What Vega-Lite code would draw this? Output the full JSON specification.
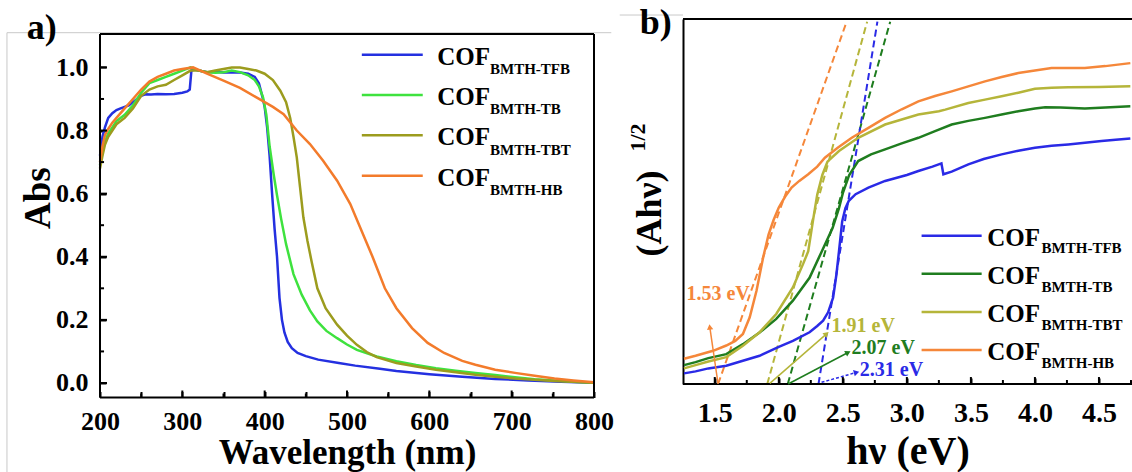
{
  "$schema": "https://vega.github.io/schema/vega-lite/v6.json",
  "padding": {"left": 6, "top": 4, "right": 0, "bottom": 0},
  "background": "white",
  "bounds": "flush",
  "spacing": 89,
  "config": {
    "font": "Liberation Serif",
    "view": {"stroke": null},
    "axis": {"labelFont": "Liberation Serif", "titleFont": "Liberation Serif", "labelColor": "#000", "titleColor": "#000", "domainColor": "#000", "tickColor": "#000", "grid": false, "labelFontWeight": "bold", "titleFontWeight": "bold", "domainWidth": 2, "tickWidth": 2, "ticks": true, "tickOpacity": 1, "zindex": 1, "labelOverlap": false, "labelFlush": false}
  },
  "datasets": {
    "absA": [
      {"w":200,"a":0.72,"s":"TFB"},{"w":203,"a":0.78,"s":"TFB"},{"w":206,"a":0.81,"s":"TFB"},{"w":210,"a":0.84,"s":"TFB"},{"w":215,"a":0.855,"s":"TFB"},{"w":220,"a":0.865,"s":"TFB"},{"w":225,"a":0.87,"s":"TFB"},{"w":230,"a":0.875,"s":"TFB"},{"w":235,"a":0.88,"s":"TFB"},{"w":240,"a":0.89,"s":"TFB"},{"w":245,"a":0.9,"s":"TFB"},{"w":250,"a":0.91,"s":"TFB"},{"w":255,"a":0.915,"s":"TFB"},{"w":262,"a":0.914,"s":"TFB"},{"w":270,"a":0.916,"s":"TFB"},{"w":280,"a":0.915,"s":"TFB"},{"w":290,"a":0.916,"s":"TFB"},{"w":300,"a":0.92,"s":"TFB"},{"w":306,"a":0.924,"s":"TFB"},{"w":309,"a":0.93,"s":"TFB"},{"w":311,"a":0.99,"s":"TFB"},{"w":315,"a":0.993,"s":"TFB"},{"w":320,"a":0.99,"s":"TFB"},{"w":330,"a":0.985,"s":"TFB"},{"w":340,"a":0.986,"s":"TFB"},{"w":350,"a":0.984,"s":"TFB"},{"w":360,"a":0.985,"s":"TFB"},{"w":370,"a":0.984,"s":"TFB"},{"w":380,"a":0.98,"s":"TFB"},{"w":388,"a":0.97,"s":"TFB"},{"w":393,"a":0.95,"s":"TFB"},{"w":397,"a":0.91,"s":"TFB"},{"w":400,"a":0.875,"s":"TFB"},{"w":403,"a":0.81,"s":"TFB"},{"w":406,"a":0.72,"s":"TFB"},{"w":409,"a":0.6,"s":"TFB"},{"w":412,"a":0.49,"s":"TFB"},{"w":415,"a":0.4,"s":"TFB"},{"w":418,"a":0.27,"s":"TFB"},{"w":421,"a":0.2,"s":"TFB"},{"w":424,"a":0.16,"s":"TFB"},{"w":428,"a":0.13,"s":"TFB"},{"w":433,"a":0.11,"s":"TFB"},{"w":440,"a":0.095,"s":"TFB"},{"w":450,"a":0.085,"s":"TFB"},{"w":465,"a":0.074,"s":"TFB"},{"w":490,"a":0.063,"s":"TFB"},{"w":510,"a":0.055,"s":"TFB"},{"w":540,"a":0.045,"s":"TFB"},{"w":560,"a":0.038,"s":"TFB"},{"w":600,"a":0.028,"s":"TFB"},{"w":640,"a":0.02,"s":"TFB"},{"w":680,"a":0.013,"s":"TFB"},{"w":720,"a":0.008,"s":"TFB"},{"w":760,"a":0.004,"s":"TFB"},{"w":800,"a":0.001,"s":"TFB"},
      {"w":200,"a":0.69,"s":"TB"},{"w":203,"a":0.73,"s":"TB"},{"w":206,"a":0.765,"s":"TB"},{"w":210,"a":0.79,"s":"TB"},{"w":215,"a":0.81,"s":"TB"},{"w":220,"a":0.83,"s":"TB"},{"w":230,"a":0.85,"s":"TB"},{"w":240,"a":0.88,"s":"TB"},{"w":250,"a":0.92,"s":"TB"},{"w":260,"a":0.95,"s":"TB"},{"w":270,"a":0.96,"s":"TB"},{"w":280,"a":0.97,"s":"TB"},{"w":290,"a":0.98,"s":"TB"},{"w":300,"a":0.99,"s":"TB"},{"w":310,"a":1.0,"s":"TB"},{"w":320,"a":0.99,"s":"TB"},{"w":330,"a":0.985,"s":"TB"},{"w":340,"a":0.983,"s":"TB"},{"w":350,"a":0.985,"s":"TB"},{"w":360,"a":0.99,"s":"TB"},{"w":370,"a":0.985,"s":"TB"},{"w":380,"a":0.975,"s":"TB"},{"w":388,"a":0.96,"s":"TB"},{"w":393,"a":0.94,"s":"TB"},{"w":398,"a":0.905,"s":"TB"},{"w":402,"a":0.85,"s":"TB"},{"w":406,"a":0.75,"s":"TB"},{"w":411,"a":0.66,"s":"TB"},{"w":415,"a":0.595,"s":"TB"},{"w":420,"a":0.52,"s":"TB"},{"w":426,"a":0.44,"s":"TB"},{"w":435,"a":0.345,"s":"TB"},{"w":445,"a":0.28,"s":"TB"},{"w":455,"a":0.23,"s":"TB"},{"w":464,"a":0.195,"s":"TB"},{"w":475,"a":0.165,"s":"TB"},{"w":488,"a":0.142,"s":"TB"},{"w":500,"a":0.122,"s":"TB"},{"w":512,"a":0.105,"s":"TB"},{"w":536,"a":0.084,"s":"TB"},{"w":560,"a":0.069,"s":"TB"},{"w":584,"a":0.057,"s":"TB"},{"w":608,"a":0.047,"s":"TB"},{"w":632,"a":0.039,"s":"TB"},{"w":656,"a":0.032,"s":"TB"},{"w":680,"a":0.025,"s":"TB"},{"w":704,"a":0.018,"s":"TB"},{"w":728,"a":0.012,"s":"TB"},{"w":752,"a":0.008,"s":"TB"},{"w":776,"a":0.004,"s":"TB"},{"w":800,"a":0.001,"s":"TB"},
      {"w":200,"a":0.68,"s":"TBT"},{"w":203,"a":0.72,"s":"TBT"},{"w":206,"a":0.755,"s":"TBT"},{"w":210,"a":0.78,"s":"TBT"},{"w":215,"a":0.8,"s":"TBT"},{"w":220,"a":0.82,"s":"TBT"},{"w":230,"a":0.84,"s":"TBT"},{"w":240,"a":0.87,"s":"TBT"},{"w":250,"a":0.91,"s":"TBT"},{"w":260,"a":0.93,"s":"TBT"},{"w":270,"a":0.94,"s":"TBT"},{"w":280,"a":0.945,"s":"TBT"},{"w":290,"a":0.96,"s":"TBT"},{"w":300,"a":0.975,"s":"TBT"},{"w":310,"a":0.99,"s":"TBT"},{"w":320,"a":0.99,"s":"TBT"},{"w":330,"a":0.985,"s":"TBT"},{"w":340,"a":0.99,"s":"TBT"},{"w":350,"a":0.995,"s":"TBT"},{"w":360,"a":1.0,"s":"TBT"},{"w":370,"a":1.0,"s":"TBT"},{"w":380,"a":0.995,"s":"TBT"},{"w":390,"a":0.99,"s":"TBT"},{"w":400,"a":0.98,"s":"TBT"},{"w":410,"a":0.96,"s":"TBT"},{"w":419,"a":0.926,"s":"TBT"},{"w":426,"a":0.89,"s":"TBT"},{"w":431,"a":0.84,"s":"TBT"},{"w":435,"a":0.78,"s":"TBT"},{"w":439,"a":0.715,"s":"TBT"},{"w":443,"a":0.62,"s":"TBT"},{"w":447,"a":0.525,"s":"TBT"},{"w":452,"a":0.45,"s":"TBT"},{"w":457,"a":0.385,"s":"TBT"},{"w":464,"a":0.3,"s":"TBT"},{"w":474,"a":0.237,"s":"TBT"},{"w":488,"a":0.185,"s":"TBT"},{"w":500,"a":0.15,"s":"TBT"},{"w":512,"a":0.121,"s":"TBT"},{"w":524,"a":0.098,"s":"TBT"},{"w":536,"a":0.082,"s":"TBT"},{"w":560,"a":0.063,"s":"TBT"},{"w":584,"a":0.052,"s":"TBT"},{"w":608,"a":0.042,"s":"TBT"},{"w":632,"a":0.034,"s":"TBT"},{"w":656,"a":0.026,"s":"TBT"},{"w":680,"a":0.02,"s":"TBT"},{"w":704,"a":0.014,"s":"TBT"},{"w":752,"a":0.006,"s":"TBT"},{"w":800,"a":0.001,"s":"TBT"},
      {"w":200,"a":0.7,"s":"HB"},{"w":203,"a":0.75,"s":"HB"},{"w":206,"a":0.785,"s":"HB"},{"w":210,"a":0.805,"s":"HB"},{"w":215,"a":0.825,"s":"HB"},{"w":220,"a":0.84,"s":"HB"},{"w":225,"a":0.855,"s":"HB"},{"w":230,"a":0.87,"s":"HB"},{"w":240,"a":0.9,"s":"HB"},{"w":250,"a":0.93,"s":"HB"},{"w":260,"a":0.955,"s":"HB"},{"w":270,"a":0.97,"s":"HB"},{"w":280,"a":0.98,"s":"HB"},{"w":290,"a":0.99,"s":"HB"},{"w":300,"a":0.995,"s":"HB"},{"w":313,"a":1.0,"s":"HB"},{"w":330,"a":0.98,"s":"HB"},{"w":350,"a":0.958,"s":"HB"},{"w":370,"a":0.935,"s":"HB"},{"w":390,"a":0.905,"s":"HB"},{"w":410,"a":0.875,"s":"HB"},{"w":423,"a":0.852,"s":"HB"},{"w":439,"a":0.8,"s":"HB"},{"w":455,"a":0.757,"s":"HB"},{"w":471,"a":0.704,"s":"HB"},{"w":488,"a":0.641,"s":"HB"},{"w":504,"a":0.567,"s":"HB"},{"w":516,"a":0.493,"s":"HB"},{"w":531,"a":0.4,"s":"HB"},{"w":546,"a":0.3,"s":"HB"},{"w":560,"a":0.237,"s":"HB"},{"w":579,"a":0.174,"s":"HB"},{"w":598,"a":0.127,"s":"HB"},{"w":618,"a":0.095,"s":"HB"},{"w":640,"a":0.07,"s":"HB"},{"w":656,"a":0.058,"s":"HB"},{"w":680,"a":0.042,"s":"HB"},{"w":704,"a":0.032,"s":"HB"},{"w":730,"a":0.022,"s":"HB"},{"w":752,"a":0.014,"s":"HB"},{"w":775,"a":0.008,"s":"HB"},{"w":800,"a":0.002,"s":"HB"}
    ],
    "taucB": [
      {"e":1.26,"v":0.32,"s":"TFB"},{"e":1.35,"v":0.38,"s":"TFB"},{"e":1.45,"v":0.47,"s":"TFB"},{"e":1.59,"v":0.55,"s":"TFB"},{"e":1.7,"v":0.68,"s":"TFB"},{"e":1.85,"v":0.85,"s":"TFB"},{"e":2.0,"v":1.12,"s":"TFB"},{"e":2.11,"v":1.3,"s":"TFB"},{"e":2.24,"v":1.56,"s":"TFB"},{"e":2.3,"v":1.75,"s":"TFB"},{"e":2.346,"v":1.91,"s":"TFB"},{"e":2.385,"v":2.16,"s":"TFB"},{"e":2.424,"v":2.6,"s":"TFB"},{"e":2.45,"v":3.3,"s":"TFB"},{"e":2.47,"v":4.0,"s":"TFB"},{"e":2.495,"v":4.9,"s":"TFB"},{"e":2.52,"v":5.3,"s":"TFB"},{"e":2.547,"v":5.52,"s":"TFB"},{"e":2.6,"v":5.72,"s":"TFB"},{"e":2.7,"v":5.92,"s":"TFB"},{"e":2.83,"v":6.12,"s":"TFB"},{"e":3.0,"v":6.3,"s":"TFB"},{"e":3.09,"v":6.42,"s":"TFB"},{"e":3.2,"v":6.55,"s":"TFB"},{"e":3.27,"v":6.65,"s":"TFB"},{"e":3.285,"v":6.32,"s":"TFB"},{"e":3.35,"v":6.4,"s":"TFB"},{"e":3.48,"v":6.62,"s":"TFB"},{"e":3.6,"v":6.78,"s":"TFB"},{"e":3.74,"v":6.92,"s":"TFB"},{"e":3.87,"v":7.03,"s":"TFB"},{"e":4.0,"v":7.12,"s":"TFB"},{"e":4.13,"v":7.18,"s":"TFB"},{"e":4.26,"v":7.22,"s":"TFB"},{"e":4.39,"v":7.27,"s":"TFB"},{"e":4.52,"v":7.32,"s":"TFB"},{"e":4.63,"v":7.36,"s":"TFB"},{"e":4.745,"v":7.4,"s":"TFB"},
      {"e":1.26,"v":0.57,"s":"TB"},{"e":1.35,"v":0.66,"s":"TB"},{"e":1.45,"v":0.78,"s":"TB"},{"e":1.59,"v":0.9,"s":"TB"},{"e":1.72,"v":1.2,"s":"TB"},{"e":1.85,"v":1.55,"s":"TB"},{"e":1.98,"v":1.96,"s":"TB"},{"e":2.11,"v":2.51,"s":"TB"},{"e":2.24,"v":3.2,"s":"TB"},{"e":2.33,"v":3.95,"s":"TB"},{"e":2.42,"v":4.7,"s":"TB"},{"e":2.47,"v":5.3,"s":"TB"},{"e":2.5,"v":5.75,"s":"TB"},{"e":2.55,"v":6.3,"s":"TB"},{"e":2.62,"v":6.72,"s":"TB"},{"e":2.72,"v":6.92,"s":"TB"},{"e":2.83,"v":7.07,"s":"TB"},{"e":2.96,"v":7.25,"s":"TB"},{"e":3.09,"v":7.42,"s":"TB"},{"e":3.22,"v":7.62,"s":"TB"},{"e":3.35,"v":7.82,"s":"TB"},{"e":3.48,"v":7.93,"s":"TB"},{"e":3.61,"v":8.02,"s":"TB"},{"e":3.74,"v":8.12,"s":"TB"},{"e":3.87,"v":8.22,"s":"TB"},{"e":4.0,"v":8.3,"s":"TB"},{"e":4.08,"v":8.34,"s":"TB"},{"e":4.2,"v":8.33,"s":"TB"},{"e":4.39,"v":8.3,"s":"TB"},{"e":4.55,"v":8.33,"s":"TB"},{"e":4.745,"v":8.37,"s":"TB"},
      {"e":1.26,"v":0.47,"s":"TBT"},{"e":1.35,"v":0.57,"s":"TBT"},{"e":1.45,"v":0.68,"s":"TBT"},{"e":1.59,"v":0.81,"s":"TBT"},{"e":1.72,"v":1.15,"s":"TBT"},{"e":1.85,"v":1.56,"s":"TBT"},{"e":1.98,"v":2.11,"s":"TBT"},{"e":2.11,"v":2.91,"s":"TBT"},{"e":2.19,"v":3.62,"s":"TBT"},{"e":2.23,"v":4.0,"s":"TBT"},{"e":2.27,"v":5.0,"s":"TBT"},{"e":2.3,"v":5.7,"s":"TBT"},{"e":2.34,"v":6.3,"s":"TBT"},{"e":2.38,"v":6.7,"s":"TBT"},{"e":2.47,"v":7.02,"s":"TBT"},{"e":2.62,"v":7.42,"s":"TBT"},{"e":2.83,"v":7.82,"s":"TBT"},{"e":3.09,"v":8.12,"s":"TBT"},{"e":3.25,"v":8.22,"s":"TBT"},{"e":3.3,"v":8.27,"s":"TBT"},{"e":3.48,"v":8.47,"s":"TBT"},{"e":3.61,"v":8.57,"s":"TBT"},{"e":3.74,"v":8.67,"s":"TBT"},{"e":3.87,"v":8.78,"s":"TBT"},{"e":4.0,"v":8.9,"s":"TBT"},{"e":4.13,"v":8.93,"s":"TBT"},{"e":4.26,"v":8.94,"s":"TBT"},{"e":4.5,"v":8.95,"s":"TBT"},{"e":4.745,"v":8.97,"s":"TBT"},
      {"e":1.26,"v":0.76,"s":"HB"},{"e":1.35,"v":0.85,"s":"HB"},{"e":1.487,"v":1.0,"s":"HB"},{"e":1.59,"v":1.16,"s":"HB"},{"e":1.66,"v":1.3,"s":"HB"},{"e":1.72,"v":1.51,"s":"HB"},{"e":1.773,"v":2.01,"s":"HB"},{"e":1.826,"v":2.81,"s":"HB"},{"e":1.877,"v":3.8,"s":"HB"},{"e":1.92,"v":4.5,"s":"HB"},{"e":1.96,"v":4.95,"s":"HB"},{"e":2.0,"v":5.32,"s":"HB"},{"e":2.05,"v":5.65,"s":"HB"},{"e":2.1,"v":5.92,"s":"HB"},{"e":2.16,"v":6.12,"s":"HB"},{"e":2.23,"v":6.32,"s":"HB"},{"e":2.3,"v":6.55,"s":"HB"},{"e":2.36,"v":6.82,"s":"HB"},{"e":2.46,"v":7.12,"s":"HB"},{"e":2.57,"v":7.42,"s":"HB"},{"e":2.7,"v":7.72,"s":"HB"},{"e":2.83,"v":8.02,"s":"HB"},{"e":2.96,"v":8.28,"s":"HB"},{"e":3.09,"v":8.52,"s":"HB"},{"e":3.22,"v":8.68,"s":"HB"},{"e":3.35,"v":8.82,"s":"HB"},{"e":3.48,"v":8.97,"s":"HB"},{"e":3.61,"v":9.12,"s":"HB"},{"e":3.74,"v":9.25,"s":"HB"},{"e":3.87,"v":9.37,"s":"HB"},{"e":4.0,"v":9.45,"s":"HB"},{"e":4.13,"v":9.52,"s":"HB"},{"e":4.26,"v":9.52,"s":"HB"},{"e":4.39,"v":9.52,"s":"HB"},{"e":4.55,"v":9.58,"s":"HB"},{"e":4.745,"v":9.67,"s":"HB"}
    ],
    "tangB": [
      {"e":1.526,"v":0,"s":"HB"},{"e":2.53,"v":10.92,"s":"HB"},
      {"e":1.91,"v":0,"s":"TBT"},{"e":2.69,"v":10.92,"s":"TBT"},
      {"e":2.07,"v":0,"s":"TB"},{"e":2.87,"v":10.92,"s":"TB"},
      {"e":2.31,"v":0,"s":"TFB"},{"e":2.77,"v":10.92,"s":"TFB"}
    ],
    "legend": [
      {"s":"TFB","sub":"BMTH-TFB"},{"s":"TB","sub":"BMTH-TB"},{"s":"TBT","sub":"BMTH-TBT"},{"s":"HB","sub":"BMTH-HB"}
    ],
    "tAxMaj": [{"w":300},{"w":400},{"w":500},{"w":600},{"w":700}],
    "tAxMin": [{"w":250},{"w":350},{"w":450},{"w":550},{"w":650},{"w":750}],
    "tAyMaj": [{"a":0},{"a":0.2},{"a":0.4},{"a":0.6},{"a":0.8},{"a":1.0}],
    "tAyMin": [{"a":0.1},{"a":0.3},{"a":0.5},{"a":0.7},{"a":0.9}],
    "tBxMaj": [{"e":1.5},{"e":2.0},{"e":2.5},{"e":3.0},{"e":3.5},{"e":4.0},{"e":4.5}],
    "tBxMin": [{"e":1.75},{"e":2.25},{"e":2.75},{"e":3.25},{"e":3.75},{"e":4.25},{"e":4.75}],
    "one": [{}]
  },
  "hconcat": [
    {
      "width": 494,
      "height": 378.5,
      "layer": [
        {
          "layer": [
            {"data": {"name": "one"}, "mark": {"type": "rule", "color": "#c9c9c9", "strokeWidth": 1}, "encoding": {"x": {"datum": 87}, "x2": {"datum": 821}, "y": {"datum": 1.11}}},
            {"data": {"name": "one"}, "mark": {"type": "rule", "color": "#c9c9c9", "strokeWidth": 1}, "encoding": {"x": {"datum": 87}, "y": {"datum": 1.11}, "y2": {"datum": -0.284}}},
            {
              "data": {"name": "absA"},
              "mark": {"type": "line", "strokeWidth": 2.5},
              "encoding": {
                "x": {"field": "w", "type": "quantitative", "scale": {"domain": [200, 800], "nice": false, "zero": false},
                  "axis": {"values": [200,250,300,350,400,450,500,550,600,650,700,750,800], "labelExpr": "datum.value % 100 === 0 ? datum.label : ''", "offset": -6, "tickSize": 6, "domain": false, "labelPadding": 11, "labelFontSize": 26, "title": "Wavelength (nm)", "titleFontSize": 35, "titleY": 72, "titleBaseline": "alphabetic"}},
                "y": {"field": "a", "type": "quantitative", "scale": {"domain": [-0.046, 1.1534], "nice": false, "zero": false},
                  "axis": {"values": [0,0.1,0.2,0.3,0.4,0.5,0.6,0.7,0.8,0.9,1.0], "labelExpr": "round(datum.value*10) % 2 === 0 ? format(datum.value, '.1f') : ''", "offset": -6, "tickSize": 6, "domain": false, "labelPadding": 12, "labelFontSize": 26, "title": "Abs", "titleFontSize": 37, "titleAngle": 270, "titleX": -57, "titleY": 178.7, "titleAlign": "center", "titleBaseline": "alphabetic"}},
                "color": {"field": "s", "type": "nominal", "legend": null, "scale": {"domain": ["TFB","TB","TBT","HB"], "range": ["#2430e0","#3ee23e","#9c9c1e","#f37b2b"]}}
              }
            },
            {"data": {"name": "tAxMaj"}, "mark": {"type": "rule", "color": "#000", "strokeWidth": 2}, "encoding": {"x": {"field": "w", "type": "quantitative"}, "y": {"datum": -0.046}, "y2": {"datum": -0.0238}}},
            {"data": {"name": "tAxMin"}, "mark": {"type": "rule", "color": "#000", "strokeWidth": 2}, "encoding": {"x": {"field": "w", "type": "quantitative"}, "y": {"datum": -0.046}, "y2": {"datum": -0.0333}}},
            {"data": {"name": "tAyMaj"}, "mark": {"type": "rule", "color": "#000", "strokeWidth": 2}, "encoding": {"y": {"field": "a", "type": "quantitative"}, "x": {"datum": 200}, "x2": {"datum": 208.5}}},
            {"data": {"name": "tAyMin"}, "mark": {"type": "rule", "color": "#000", "strokeWidth": 2}, "encoding": {"y": {"field": "a", "type": "quantitative"}, "x": {"datum": 200}, "x2": {"datum": 204.9}}},
            {"data": {"name": "one"}, "mark": {"type": "rule", "color": "#000", "strokeWidth": 2}, "encoding": {"x": {"datum": 200}, "y": {"datum": -0.046}, "y2": {"datum": 1.1058}}},
            {"data": {"name": "one"}, "mark": {"type": "rule", "color": "#000", "strokeWidth": 2}, "encoding": {"x": {"datum": 800}, "y": {"datum": -0.046}, "y2": {"datum": 1.1058}}},
            {"data": {"name": "one"}, "mark": {"type": "rule", "color": "#000", "strokeWidth": 2}, "encoding": {"x": {"datum": 200}, "x2": {"datum": 800}, "y": {"datum": 1.1058}}},
            {"data": {"name": "one"}, "mark": {"type": "rule", "color": "#000", "strokeWidth": 2}, "encoding": {"x": {"datum": 200}, "x2": {"datum": 800}, "y": {"datum": -0.046}}},
            {"data": {"name": "one"}, "mark": {"type": "text", "text": "a)", "fontSize": 36, "fontWeight": "bold", "align": "left", "baseline": "alphabetic", "color": "#000"}, "encoding": {"x": {"datum": 111}, "y": {"datum": 1.09}}}
          ]
        },
        {
          "data": {"name": "legend"},
          "encoding": {
            "y": {"field": "s", "type": "nominal", "scale": {"type": "point", "domain": ["TFB","TB","TBT","HB"], "range": [35.7, 156.7], "padding": 0}, "axis": null},
            "color": {"field": "s", "type": "nominal", "legend": null, "scale": {"domain": ["TFB","TB","TBT","HB"], "range": ["#2430e0","#3ee23e","#9c9c1e","#f37b2b"]}}
          },
          "layer": [
            {"mark": {"type": "rule", "strokeWidth": 2.5}, "encoding": {"x": {"datum": 518}, "x2": {"datum": 592}}},
            {"mark": {"type": "text", "text": "COF", "fontSize": 25, "fontWeight": "bold", "align": "left", "baseline": "alphabetic", "dy": 10}, "encoding": {"x": {"datum": 609.7}, "color": {"value": "#000"}}},
            {"mark": {"type": "text", "fontSize": 15, "fontWeight": "bold", "align": "left", "baseline": "alphabetic", "dy": 19.3}, "encoding": {"x": {"datum": 673.7}, "text": {"field": "sub"}, "color": {"value": "#000"}}}
          ]
        }
      ],
      "resolve": {"scale": {"y": "independent"}}
    },
    {
      "width": 449,
      "height": 365,
      "layer": [
        {
          "layer": [
            {"data": {"name": "one"}, "mark": {"type": "rule", "color": "#c9c9c9", "strokeWidth": 1}, "encoding": {"x": {"datum": 0.758}, "x2": {"datum": 1.252}, "y": {"datum": 11.12}}},
            {
              "data": {"name": "tangB"},
              "mark": {"type": "line", "strokeWidth": 2, "strokeDash": [7, 4]},
              "encoding": {
                "x": {"field": "e", "type": "quantitative"},
                "y": {"field": "v", "type": "quantitative"},
                "detail": {"field": "s"},
                "color": {"field": "s", "type": "nominal", "legend": null}
              }
            },
            {
              "data": {"name": "taucB"},
              "mark": {"type": "line", "strokeWidth": 2.5},
              "encoding": {
                "x": {"field": "e", "type": "quantitative", "scale": {"domain": [1.252, 4.758], "nice": false, "zero": false},
                  "axis": {"values": [1.5,1.75,2,2.25,2.5,2.75,3,3.25,3.5,3.75,4,4.25,4.5,4.75], "labelExpr": "round(datum.value*4) % 2 === 0 ? format(datum.value, '.1f') : ''", "offset": -6, "tickSize": 6, "domain": false, "labelPadding": 15, "labelFontSize": 28, "title": "hν (eV)", "titleFontSize": 40, "titleY": 85, "titleBaseline": "alphabetic"}},
                "y": {"field": "v", "type": "quantitative", "scale": {"domain": [0, 11], "nice": false, "zero": false},
                  "axis": {"ticks": false, "labels": false, "domain": true, "title": "(Ahν)", "titleFontSize": 36, "titleAngle": 270, "titleX": -23, "titleY": 194, "titleAlign": "center", "titleBaseline": "alphabetic"}},
                "color": {"field": "s", "type": "nominal", "legend": null, "scale": {"domain": ["TFB","TB","TBT","HB"], "range": ["#2a2ae6","#1f7d1f","#b5b53a","#f5873a"]}}
              }
            },
            {"data": {"name": "tBxMaj"}, "mark": {"type": "rule", "color": "#000", "strokeWidth": 2}, "encoding": {"x": {"field": "e", "type": "quantitative"}, "y": {"datum": 0}, "y2": {"datum": 0.21}}},
            {"data": {"name": "tBxMin"}, "mark": {"type": "rule", "color": "#000", "strokeWidth": 2}, "encoding": {"x": {"field": "e", "type": "quantitative"}, "y": {"datum": 0}, "y2": {"datum": 0.12}}},
            {"data": {"name": "one"}, "mark": {"type": "rule", "color": "#000", "strokeWidth": 2}, "encoding": {"x": {"datum": 1.252}, "x2": {"datum": 4.758}, "y": {"datum": 11}}},
            {"data": {"name": "one"}, "mark": {"type": "rule", "color": "#000", "strokeWidth": 2}, "encoding": {"x": {"datum": 1.252}, "x2": {"datum": 4.758}, "y": {"datum": 0}}},
            {"data": {"name": "one"}, "mark": {"type": "rule", "strokeWidth": 1.5}, "encoding": {"x": {"datum": 1.526}, "y": {"datum": 0}, "x2": {"datum": 1.461}, "y2": {"datum": 1.72}, "color": {"datum": "HB"}}},
            {"data": {"name": "one"}, "mark": {"type": "point", "shape": "triangle-up", "filled": true, "size": 40, "angle": 352, "opacity": 1}, "encoding": {"x": {"datum": 1.461}, "y": {"datum": 1.72}, "color": {"datum": "HB"}}},
            {"data": {"name": "one"}, "mark": {"type": "rule", "strokeWidth": 1.5}, "encoding": {"x": {"datum": 1.93}, "y": {"datum": 0.02}, "x2": {"datum": 2.373}, "y2": {"datum": 1.51}, "color": {"datum": "TBT"}}},
            {"data": {"name": "one"}, "mark": {"type": "point", "shape": "triangle-up", "filled": true, "size": 40, "angle": 49, "opacity": 1}, "encoding": {"x": {"datum": 2.373}, "y": {"datum": 1.51}, "color": {"datum": "TBT"}}},
            {"data": {"name": "one"}, "mark": {"type": "rule", "strokeWidth": 1.5}, "encoding": {"x": {"datum": 2.073}, "y": {"datum": 0}, "x2": {"datum": 2.541}, "y2": {"datum": 0.95}, "color": {"datum": "TB"}}},
            {"data": {"name": "one"}, "mark": {"type": "point", "shape": "triangle-up", "filled": true, "size": 40, "angle": 62, "opacity": 1}, "encoding": {"x": {"datum": 2.541}, "y": {"datum": 0.95}, "color": {"datum": "TB"}}},
            {"data": {"name": "one"}, "mark": {"type": "rule", "strokeWidth": 1.5, "strokeDash": [3, 2]}, "encoding": {"x": {"datum": 2.334}, "y": {"datum": 0.05}, "x2": {"datum": 2.607}, "y2": {"datum": 0.35}, "color": {"datum": "TFB"}}},
            {"data": {"name": "one"}, "mark": {"type": "point", "shape": "triangle-up", "filled": true, "size": 40, "angle": 74, "opacity": 1}, "encoding": {"x": {"datum": 2.607}, "y": {"datum": 0.35}, "color": {"datum": "TFB"}}},
            {"data": {"name": "one"}, "mark": {"type": "text", "text": "1.53 eV", "fontSize": 20, "fontWeight": "bold", "align": "left", "baseline": "alphabetic"}, "encoding": {"x": {"datum": 1.279}, "y": {"datum": 2.53}, "color": {"datum": "HB"}}},
            {"data": {"name": "one"}, "mark": {"type": "text", "text": "1.91 eV", "fontSize": 20, "fontWeight": "bold", "align": "left", "baseline": "alphabetic"}, "encoding": {"x": {"datum": 2.412}, "y": {"datum": 1.555}, "color": {"datum": "TBT"}}},
            {"data": {"name": "one"}, "mark": {"type": "text", "text": "2.07 eV", "fontSize": 20, "fontWeight": "bold", "align": "left", "baseline": "alphabetic"}, "encoding": {"x": {"datum": 2.568}, "y": {"datum": 0.904}, "color": {"datum": "TB"}}},
            {"data": {"name": "one"}, "mark": {"type": "text", "text": "2.31 eV", "fontSize": 20, "fontWeight": "bold", "align": "left", "baseline": "alphabetic"}, "encoding": {"x": {"datum": 2.633}, "y": {"datum": 0.25}, "color": {"datum": "TFB"}}},
            {"data": {"name": "one"}, "mark": {"type": "text", "text": "b)", "fontSize": 36, "fontWeight": "bold", "align": "left", "baseline": "alphabetic", "color": "#000"}, "encoding": {"x": {"datum": 0.914}, "y": {"datum": 10.55}}},
            {"data": {"name": "one"}, "mark": {"type": "text", "text": "1/2", "fontSize": 22, "fontWeight": "bold", "align": "center", "baseline": "alphabetic", "angle": 270, "color": "#000"}, "encoding": {"x": {"datum": 0.953}, "y": {"datum": 7.43}}}
          ]
        },
        {
          "data": {"name": "legend"},
          "encoding": {
            "y": {"field": "s", "type": "nominal", "scale": {"type": "point", "domain": ["TFB","TB","TBT","HB"], "range": [216.7, 331], "padding": 0}, "axis": null},
            "color": {"field": "s", "type": "nominal", "legend": null, "scale": {"domain": ["TFB","TB","TBT","HB"], "range": ["#2a2ae6","#1f7d1f","#b5b53a","#f5873a"]}}
          },
          "layer": [
            {"mark": {"type": "rule", "strokeWidth": 2.5}, "encoding": {"x": {"datum": 3.115}, "x2": {"datum": 3.584}}},
            {"mark": {"type": "text", "text": "COF", "fontSize": 25, "fontWeight": "bold", "align": "left", "baseline": "alphabetic", "dy": 10, "clip": true}, "encoding": {"x": {"datum": 3.627}, "color": {"value": "#000"}}},
            {"mark": {"type": "text", "fontSize": 15, "fontWeight": "bold", "align": "left", "baseline": "alphabetic", "dy": 17.7, "clip": true}, "encoding": {"x": {"datum": 4.052}, "text": {"field": "sub"}, "color": {"value": "#000"}}}
          ]
        }
      ],
      "resolve": {"scale": {"y": "independent"}}
    }
  ],
  "resolve": {"scale": {"x": "independent", "y": "independent", "color": "independent"}}
}
